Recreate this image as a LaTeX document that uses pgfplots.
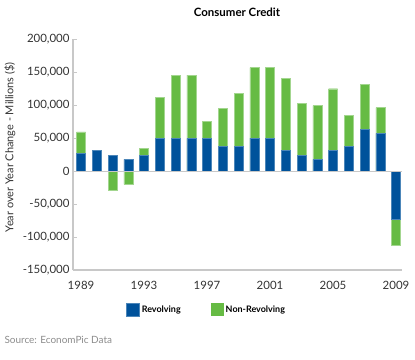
\documentclass[border=0pt]{standalone}
\usepackage{pgfplots}
\pgfplotsset{compat=1.18}
\usepackage{fontspec}
\setmainfont{Lato}
\definecolor{revblue}{RGB}{0,82,155}
\definecolor{nongreen}{RGB}{102,187,68}
\definecolor{axgray}{RGB}{200,200,200}
\definecolor{srcgray}{RGB}{140,140,140}
\begin{document}
\begin{tikzpicture}
\useasboundingbox (-73bp,-90bp) rectangle (342bp,270bp);
\begin{axis}[
  scale only axis,
  width=329bp, height=231bp,
  xmin=1988.49, xmax=2009.38,
  ymin=-150000, ymax=200000,
  scaled y ticks=false,
  axis x line=bottom, axis y line=left,
  axis line style={axgray, line width=1.2pt, -},
  xtick={1989,1993,1997,2001,2005,2009},
  xticklabels={1989,1993,1997,2001,2005,2009},
  x tick label style={yshift=-4bp},
  major x tick style={draw=none},
  ytick={-150000,-100000,-50000,0,50000,100000,150000,200000},
  yticklabels={-150{,}000,-100{,}000,-50{,}000,0,50{,}000,100{,}000,150{,}000,200{,}000},
  y tick style={axgray, line width=1pt},
  major tick length=4bp,
  tick align=inside,
  tick label style={font=\fontsize{11.5}{13}\selectfont\color{black!80}},
  ybar, bar shift=0pt, bar width=9bp,
  legend style={at={(axis cs:1996.98,-210000)}, anchor=center, draw=none,
    legend columns=2, font=\bfseries\fontsize{9}{11}\selectfont,
    /tikz/every even column/.append style={column sep=28bp}},
  legend image code/.code={\fill[#1] (0bp,-6.5bp) rectangle (13bp,6.5bp);},
  clip=false,
]
% drawn extent of Non-Revolving (stacked end value, from 0)
\addplot[fill=nongreen, draw=nongreen!60!white, line width=0.4pt, forget plot] coordinates {
(1989,59100) (1990,0) (1991,-28800) (1992,-20200) (1993,34800) (1994,112100)
(1995,145400) (1996,145400) (1997,75200) (1998,95400) (1999,117700) (2000,156600)
(2001,156600) (2002,140900) (2003,102000) (2004,99000) (2005,124700) (2006,84300)
(2007,130800) (2008,96000) (2009,-113100)};
% Revolving
\addplot[fill=revblue, draw=revblue!70!white, line width=0.4pt] coordinates {
(1989,26300) (1990,31800) (1991,23700) (1992,17700) (1993,23700) (1994,49500)
(1995,49500) (1996,49500) (1997,49500) (1998,37400) (1999,37400) (2000,50000)
(2001,50000) (2002,30800) (2003,24200) (2004,17700) (2005,30800) (2006,36900)
(2007,63600) (2008,57100) (2009,-73700)};
\addlegendentry{Revolving}
\addlegendimage{fill=nongreen, draw=none}
\addlegendentry{Non-Revolving}
\draw[axgray, line width=1pt] (axis cs:1988.49,0) -- (axis cs:2009.38,0);
\end{axis}
\node[font=\bfseries\fontsize{11.5}{13}\selectfont] at (164bp,258bp) {Consumer Credit};
\node[rotate=90, font=\fontsize{11}{13}\selectfont, text=black!80] at (-63bp,122.5bp) {Year over Year Change - Millions (\$)};
\node[anchor=west, font=\fontsize{10}{12}\selectfont, text=srcgray] at (-72bp,-70bp) {Source: EconomPic Data};
\end{tikzpicture}
\end{document}
